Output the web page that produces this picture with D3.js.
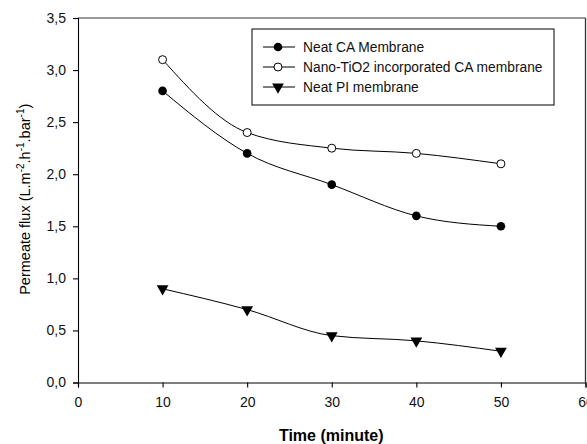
<!DOCTYPE html>
<html>
<head>
<meta charset="utf-8">
<script src="https://cdn.jsdelivr.net/npm/d3@7/dist/d3.min.js"></script>
<style>
  body { margin: 0; background: #fff; }
  svg { display: block; font-family: "Liberation Sans", Arial, sans-serif; }
</style>
</head>
<body>
<div id="chart"></div>
<script>
// Data
const times = [10, 20, 30, 40, 50];
const neatCA = [2.8, 2.2, 1.9, 1.6, 1.5];
const nanoTiO2 = [3.1, 2.4, 2.25, 2.2, 2.1];
const neatPI = [0.9, 0.7, 0.45, 0.4, 0.3];
const seriesNames = ['Neat CA Membrane', 'Nano-TiO2 incorporated CA membrane', 'Neat PI membrane'];
const xTicks = [0, 10, 20, 30, 40, 50, 60];
const yTicks = [0, 0.5, 1, 1.5, 2, 2.5, 3, 3.5];

const totalW = 587, totalH = 444;
const margin = { top: 18, right: 1.5, bottom: 61.5, left: 78 };
const width = totalW - margin.left - margin.right;
const height = totalH - margin.top - margin.bottom;

const svg = d3.select('#chart')
  .append('svg')
  .attr('width', totalW)
  .attr('height', totalH)
  .append('g')
  .attr('transform', `translate(${margin.left},${margin.top})`);

const x = d3.scaleLinear().domain([0, 60]).range([0, width]);
const y = d3.scaleLinear().domain([0, 3.5]).range([height, 0]);

const fmt = d => d3.format('.1f')(d).replace('.', ',');

// frame (top / right lighter)
svg.append('line')
  .attr('x1', 0).attr('x2', width).attr('y1', 0).attr('y2', 0)
  .style('stroke', '#777').style('stroke-width', 1.3);
svg.append('line')
  .attr('x1', width).attr('x2', width).attr('y1', 0).attr('y2', height)
  .style('stroke', '#333').style('stroke-width', 1.3);

// axes
svg.append('g')
  .attr('transform', `translate(0,${height})`)
  .call(d3.axisBottom(x).tickValues(xTicks).tickFormat(d3.format('d')).tickSize(5).tickPadding(10));

svg.append('g')
  .call(d3.axisLeft(y).tickValues(yTicks).tickFormat(fmt).tickSize(5).tickPadding(7));

svg.selectAll('.domain, .tick line').style('stroke', '#000').style('stroke-width', 1.1);
svg.selectAll('.tick text').style('font-size', '14px').style('fill', '#111')
  .style('font-family', '"Liberation Sans", Arial, sans-serif');

// axis titles
svg.append('text')
  .attr('x', x(30) - 0.5)
  .attr('y', height + 58.5)
  .attr('text-anchor', 'middle')
  .style('font-size', '16px')
  .style('font-weight', 'bold')
  .text('Time (minute)');

const yTitle = svg.append('text')
  .attr('transform', `translate(${-48},${height / 2 - 1}) rotate(-90)`)
  .attr('text-anchor', 'middle')
  .style('font-size', '14.5px');
yTitle.append('tspan').text('Permeate flux (L.m');
yTitle.append('tspan').attr('dy', -6).style('font-size', '10px').text('-2');
yTitle.append('tspan').attr('dy', 6).text('.h');
yTitle.append('tspan').attr('dy', -6).style('font-size', '10px').text('-1');
yTitle.append('tspan').attr('dy', 6).text('.bar');
yTitle.append('tspan').attr('dy', -6).style('font-size', '10px').text('-1');
yTitle.append('tspan').attr('dy', 6).text(')');

// lines
const line = d3.line()
  .x((d, i) => x(times[i]))
  .y(d => y(d))
  .curve(d3.curveMonotoneX);

const allSeries = [neatCA, nanoTiO2, neatPI];
allSeries.forEach(vals => {
  svg.append('path')
    .datum(vals)
    .attr('fill', 'none')
    .attr('stroke', '#000')
    .attr('stroke-width', 1)
    .attr('d', line);
});

const triangle = d3.symbol().type(d3.symbolTriangle).size(60);

function drawMarker(g, kind, cx, cy) {
  if (kind === 0) {
    g.append('circle').attr('cx', cx).attr('cy', cy).attr('r', 4.3).style('fill', '#000');
  } else if (kind === 1) {
    g.append('circle').attr('cx', cx).attr('cy', cy).attr('r', 4).style('fill', '#fff')
      .style('stroke', '#000').style('stroke-width', 1);
  } else {
    g.append('path').attr('d', triangle)
      .attr('transform', `translate(${cx},${cy}) rotate(180)`)
      .style('fill', '#000');
  }
}

allSeries.forEach((vals, k) => {
  vals.forEach((v, i) => drawMarker(svg, k, x(times[i]), y(v)));
});

// legend
const legend = svg.append('g')
  .attr('transform', `translate(${252 - margin.left},${29 - margin.top})`);

legend.append('rect')
  .attr('width', 302)
  .attr('height', 76)
  .style('fill', '#fff')
  .style('stroke', '#000')
  .style('stroke-width', 1);

seriesNames.forEach((name, i) => {
  const row = legend.append('g').attr('transform', `translate(0,${18 + i * 20})`);
  row.append('line')
    .attr('x1', 11).attr('x2', 43)
    .style('stroke', '#000').style('stroke-width', 1);
  drawMarker(row, i, 26, 0);
  row.append('text')
    .attr('x', 51)
    .attr('y', 5)
    .style('font-size', '13.8px')
    .style('fill', '#111')
    .text(name);
});
</script>
</body>
</html>
